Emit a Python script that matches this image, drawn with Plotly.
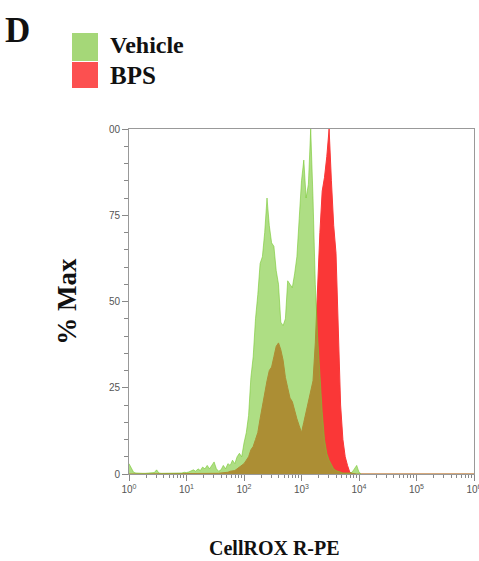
import numpy as np
import plotly.graph_objects as go

# log10 bin centres (decades), step 0.04 from 10^0 to 10^4.2
log_bins = np.round(np.arange(0, 4.2001, 0.04), 2)

vehicle = [3, 1.5, 0.5, 0.3, 0.2, 0.3, 0.2, 0.2, 0.3, 0.2,
           0.3, 0.4, 1.2, 0.3, 0.2, 0.2, 0.3, 0.2, 0.2, 0.3,
           0.2, 0.3, 0.4, 0.3, 0.5, 0.4, 0.6, 0.8, 1.2, 0.8,
           1.5, 1.0, 2, 1.5, 2.5, 1.5, 2.5, 3.5, 1.5, 0.8,
           1.2, 2.5, 1.5, 3, 2.5, 4, 3, 5, 6, 5,
           9, 12, 17, 28, 34, 45, 52, 61, 63, 70,
           80, 72, 67, 66, 59, 55, 44, 43, 45, 56,
           55, 54, 58, 63, 74, 85, 91, 80, 84, 100,
           80, 55, 40, 28, 18, 10, 6, 4, 2.5, 1.5,
           1, 0.7, 0.5, 0.3, 0.3, 0.2, 0.3, 0.5, 1.5, 2.5,
           0.5, 0, 0, 0, 0, 0]

bps = [0, 0, 0, 0, 0, 0, 0, 0, 0, 0,
       0, 0, 0, 0, 0, 0, 0, 0, 0, 0,
       0, 0, 0, 0, 0, 0, 0, 0, 0, 0,
       0, 0, 0, 0, 0, 0, 0.1, 0.1, 0.1, 0.2,
       0.3, 0.3, 0.5, 0.5, 0.8, 0.8, 1, 1.5, 2, 2.5,
       3, 4, 5, 7, 8, 10, 12, 16, 20, 23,
       27, 30, 31, 34, 37, 38, 36, 33, 28, 25,
       22, 21, 18, 16, 14, 12, 15, 18, 20, 24,
       27, 38, 55, 70, 82, 86, 92, 100, 85, 72,
       64, 42, 20, 10, 5, 2.5, 0.5, 0.2, 0, 0,
       0, 0, 0, 0, 0, 0]

# the rest of the axis (10^4.2 .. 10^6) is empty for both samples
tail_log = [5.0, 6.0]
tail_vals = [0, 0]

x_vals = list(10 ** log_bins) + [10 ** t for t in tail_log]
veh_y = vehicle + tail_vals
bps_y = bps + tail_vals

decades = [0, 1, 2, 3, 4, 5, 6]
decade_labels = ["10<sup>%d</sup>" % d for d in decades]
y_ticks = [0, 25, 50, 75, 100]
y_tick_labels = ["0", "25", "50", "75", "00"]

RED = "rgb(250,55,55)"
GREEN = "rgba(120,200,50,0.6)"
SERIF = "Liberation Serif"

fig = go.Figure()
fig.add_trace(go.Scatter(x=x_vals, y=bps_y, mode="lines", fill="tozeroy",
                         fillcolor=RED, line=dict(color=RED, width=1),
                         name="BPS", showlegend=False))
fig.add_trace(go.Scatter(x=x_vals, y=veh_y, mode="lines", fill="tozeroy",
                         fillcolor=GREEN, line=dict(color=GREEN, width=1),
                         name="Vehicle", showlegend=False))

minor_x = [m * 10 ** d for d in range(6) for m in range(2, 10)]

L, R, T, B = 129, 474, 129, 474
W, H = R - L, B - T


def px(x):
    return (x - L) / W


def py(y):
    return (B - y) / H


fig.update_layout(
    width=479, height=561,
    margin=dict(l=L, r=479 - R, t=T, b=561 - B, autoexpand=False),
    paper_bgcolor="white", plot_bgcolor="white",
    font=dict(family="Liberation Sans", size=10, color="#555"),
    xaxis=dict(type="log", range=[0, 6], tickvals=[10 ** d for d in decades],
               ticktext=decade_labels, ticks="outside", ticklen=6,
               tickcolor="#888", showline=True, linecolor="#999", mirror=True,
               showgrid=False, zeroline=False, ticklabeloverflow="allow",
               automargin=False,
               tickfont=dict(size=10, color="#555"),
               minor=dict(tickvals=minor_x, ticks="outside", ticklen=3,
                          tickcolor="#888", showgrid=False)),
    yaxis=dict(range=[0, 100], tickvals=y_ticks, ticktext=y_tick_labels,
               ticks="outside", ticklen=6, tickcolor="#888",
               showline=True, linecolor="#999", mirror=True,
               showgrid=False, zeroline=False, automargin=False,
               tickfont=dict(size=10, color="#555"),
               minor=dict(dtick=5, ticks="outside", ticklen=4,
                          tickcolor="#888", showgrid=False),
               title=dict(text="<b>% Max</b>", standoff=24,
                          font=dict(family=SERIF, size=27, color="#111"))),
    shapes=[
        dict(type="rect", xref="paper", yref="paper",
             x0=px(72), x1=px(98), y0=py(61), y1=py(33),
             fillcolor="rgb(165,215,120)", line=dict(width=0)),
        dict(type="rect", xref="paper", yref="paper",
             x0=px(72), x1=px(98), y0=py(88), y1=py(62),
             fillcolor="rgb(252,80,80)", line=dict(width=0)),
    ],
    annotations=[
        dict(text="<b>D</b>", xref="paper", yref="paper",
             x=px(3), y=py(30), xanchor="left",
             yanchor="middle", showarrow=False,
             font=dict(family=SERIF, size=35, color="#111")),
        dict(text="<b>Vehicle</b>", xref="paper", yref="paper",
             x=px(108), y=py(45), xanchor="left",
             yanchor="middle", showarrow=False,
             font=dict(family=SERIF, size=24, color="#111")),
        dict(text="<b>BPS</b>", xref="paper", yref="paper",
             x=px(108), y=py(75), xanchor="left",
             yanchor="middle", showarrow=False,
             font=dict(family=SERIF, size=25, color="#111")),
        dict(text="<b>CellROX R-PE</b>", xref="paper", yref="paper",
             x=px(274), y=py(548), xanchor="center",
             yanchor="middle", showarrow=False,
             font=dict(family=SERIF, size=20, color="#111")),
    ],
)

fig.write_html("out.html", config={"displayModeBar": False},
               post_script="document.body.style.margin='0';"
                           "document.body.style.padding='0';")
